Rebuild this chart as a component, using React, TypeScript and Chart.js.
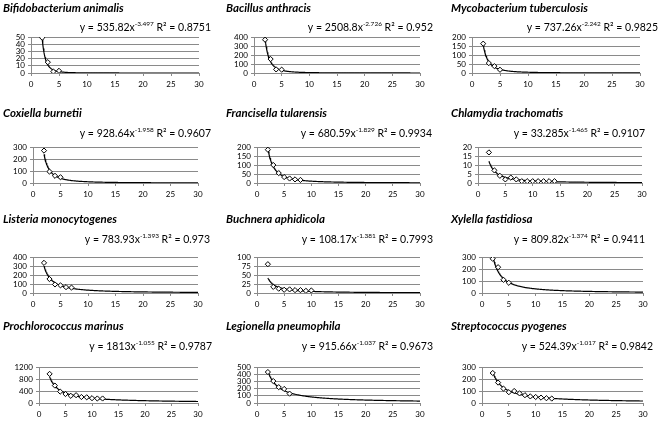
import React, { useEffect, useRef } from "react";
import { Chart, registerables } from "chart.js";

Chart.register(...registerables);

// ---------- data ----------
const speciesNames = [
  "Bifidobacterium animalis",
  "Bacillus anthracis",
  "Mycobacterium tuberculosis",
  "Coxiella burnetii",
  "Francisella tularensis",
  "Chlamydia trachomatis",
  "Listeria monocytogenes",
  "Buchnera aphidicola",
  "Xylella fastidiosa",
  "Prochlorococcus marinus",
  "Legionella pneumophila",
  "Streptococcus pyogenes",
];

const xCategories = [2, 3, 4, 5, 6, 7, 8, 9, 10, 11, 12, 13, 14];

const bifidobacteriumValues = [49, 15, 2, 3];
const bacillusValues = [370, 155, 40, 37];
const mycobacteriumValues = [163, 55, 38, 18];
const coxiellaValues = [270, 95, 60, 48];
const francisellaValues = [185, 100, 55, 33, 25, 20, 17];
const chlamydiaValues = [17, 7, 4, 2, 3, 2, 1, 1, 1, 1, 1, 1, 1];
const listeriaValues = [335, 155, 95, 85, 65, 60];
const buchneraValues = [80, 17, 12, 9, 10, 8, 8, 6, 7];
const xylellaValues = [285, 215, 110, 85];
const prochlorococcusValues = [970, 580, 380, 300, 240, 260, 200, 190, 160, 150, 150];
const legionellaValues = [430, 305, 220, 195, 130];
const streptococcusValues = [250, 170, 120, 90, 100, 80, 65, 55, 50, 45, 40, 37];

const seriesValues = [
  bifidobacteriumValues,
  bacillusValues,
  mycobacteriumValues,
  coxiellaValues,
  francisellaValues,
  chlamydiaValues,
  listeriaValues,
  buchneraValues,
  xylellaValues,
  prochlorococcusValues,
  legionellaValues,
  streptococcusValues,
];

// power-law trendline y = a * x^b, as printed on each panel
const trendCoefText = ["535.82", "2508.8", "737.26", "928.64", "680.59", "33.285", "783.93", "108.17", "809.82", "1813", "915.66", "524.39"];
const trendExpText = ["-3.497", "-2.726", "-2.242", "-1.958", "-1.829", "-1.465", "-1.393", "-1.381", "-1.374", "-1.055", "-1.037", "-1.017"];
const rSquaredText = ["0.8751", "0.952", "0.9825", "0.9607", "0.9934", "0.9107", "0.973", "0.7993", "0.9411", "0.9787", "0.9673", "0.9842"];

const yMaxValues = [50, 400, 200, 300, 200, 20, 400, 100, 300, 1200, 500, 300];
const yStepValues = [10, 100, 50, 100, 50, 5, 100, 25, 100, 400, 100, 100];
const xTickMax = 30;
const xTickStep = 5;

// ---------- layout (pixels) ----------
const colLeft = [0, 220, 440];
const colWidth = [220, 220, 222];
const titleX = [3, 226, 451];
const rowTitleY = [8, 113, 219, 326];
const rowEqY = [28, 134, 240, 347];
const rowPlotTop = [37, 147, 257, 367];
const rowPlotBottom = [73, 183, 293, 403];
const rowXLabelY = [86, 198, 308, 418];
const plotLeftPx = [31, 254, 472, 33, 257, 478, 33, 257, 482, 39, 257, 482];
const plotRightPx = [199, 420, 640, 198, 420, 642, 198, 420, 643, 198, 420, 643];
const eqRightPx = [211, 433, 658, 211, 432, 645, 210, 433, 645, 212, 433, 653];

const FONT = "Lato, 'Open Sans', 'Liberation Sans', sans-serif";
const GRID = "#8a8a8a";
const X_AXIS_H = 14;

function Panel({ idx }: { idx: number }) {
  const ref = useRef<HTMLCanvasElement | null>(null);
  const row = Math.floor(idx / 3);
  const col = idx % 3;
  const left = colLeft[col];
  const width = colWidth[col];
  const top = rowTitleY[row] - 8;
  const height = rowXLabelY[row] + 8 - top;

  useEffect(() => {
    if (!ref.current) return;
    const vals = seriesValues[idx];
    const pts = vals.map((v, i) => ({ x: xCategories[i], y: v }));
    const a = parseFloat(trendCoefText[idx]);
    const b = parseFloat(trendExpText[idx]);
    const trend: { x: number; y: number }[] = [];
    for (let k = 0; k <= 280; k++) {
      const x = 2 + k * 0.1;
      trend.push({ x, y: a * Math.pow(x, b) });
    }

    const textPlugin = {
      id: "panelText" + idx,
      afterDraw(chart: any) {
        const ctx = chart.ctx;
        ctx.save();
        ctx.fillStyle = "#000";
        ctx.textBaseline = "middle";
        ctx.textAlign = "left";
        ctx.font = `italic bold 11.5px ${FONT}`;
        ctx.fillText(speciesNames[idx], titleX[col] - left, rowTitleY[row] - top);

        const big = `10.5px ${FONT}`;
        const small = `6.5px ${FONT}`;
        const p1 = "y = " + trendCoefText[idx] + "x";
        const p2 = trendExpText[idx];
        const p3 = " R\u00B2 = " + rSquaredText[idx];
        ctx.font = big;
        const w1 = ctx.measureText(p1).width;
        const w3 = ctx.measureText(p3).width;
        ctx.font = small;
        const w2 = ctx.measureText(p2).width;
        const total = w1 + w2 + w3;
        let x = eqRightPx[idx] - left - total;
        const y = rowEqY[row] - top;
        ctx.font = big;
        ctx.fillText(p1, x, y);
        x += w1;
        ctx.font = small;
        ctx.fillText(p2, x, y - 4);
        x += w2;
        ctx.font = big;
        ctx.fillText(p3, x, y);
        ctx.restore();
      },
    };

    const chart = new Chart(ref.current, {
      type: "scatter",
      data: {
        datasets: [
          {
            data: pts,
            pointStyle: "rectRot",
            pointRadius: 2.6,
            pointBorderWidth: 1,
            pointBackgroundColor: "#ffffff",
            pointBorderColor: "#000000",
            showLine: false,
          },
          {
            data: trend,
            showLine: true,
            borderColor: "#000000",
            borderWidth: 1.2,
            pointRadius: 0,
            tension: 0,
          },
        ],
      },
      options: {
        responsive: false,
        animation: false,
        devicePixelRatio: 1,
        layout: {
          padding: {
            left: 0,
            top: rowPlotTop[row] - top,
            right: left + width - plotRightPx[idx],
            bottom: height - (rowPlotBottom[row] - top) - X_AXIS_H,
          },
        },
        plugins: {
          legend: { display: false },
          tooltip: { enabled: false },
          title: { display: false },
        },
        scales: {
          x: {
            type: "linear",
            min: 0,
            max: xTickMax,
            afterFit(scale: any) {
              scale.height = X_AXIS_H;
            },
            ticks: {
              stepSize: xTickStep,
              autoSkip: false,
              color: "#000",
              font: { family: FONT, size: 8 },
              padding: 4,
              maxRotation: 0,
              callback: (v: any) => String(v),
            },
            grid: {
              drawOnChartArea: false,
              drawTicks: true,
              tickLength: 3,
              color: GRID,
            },
            border: { color: GRID },
          },
          y: {
            min: 0,
            max: yMaxValues[idx],
            afterFit(scale: any) {
              scale.width = plotLeftPx[idx] - left;
            },
            ticks: {
              stepSize: yStepValues[idx],
              autoSkip: false,
              color: "#000",
              font: { family: FONT, size: 8 },
              padding: 3,
              callback: (v: any) => String(v),
            },
            grid: {
              drawOnChartArea: true,
              drawTicks: true,
              tickLength: 3,
              color: GRID,
            },
            border: { color: GRID },
          },
        },
      } as any,
      plugins: [textPlugin],
    });
    return () => chart.destroy();
  }, [idx]);

  return (
    <canvas
      ref={ref}
      width={width}
      height={height}
      style={{ position: "absolute", left, top, width, height }}
    />
  );
}

export default function App() {
  return (
    <div
      style={{
        position: "absolute",
        left: 0,
        top: 0,
        width: 662,
        height: 424,
        background: "#ffffff",
        overflow: "hidden",
      }}
    >
      {speciesNames.map((_, i) => (
        <Panel key={i} idx={i} />
      ))}
    </div>
  );
}
